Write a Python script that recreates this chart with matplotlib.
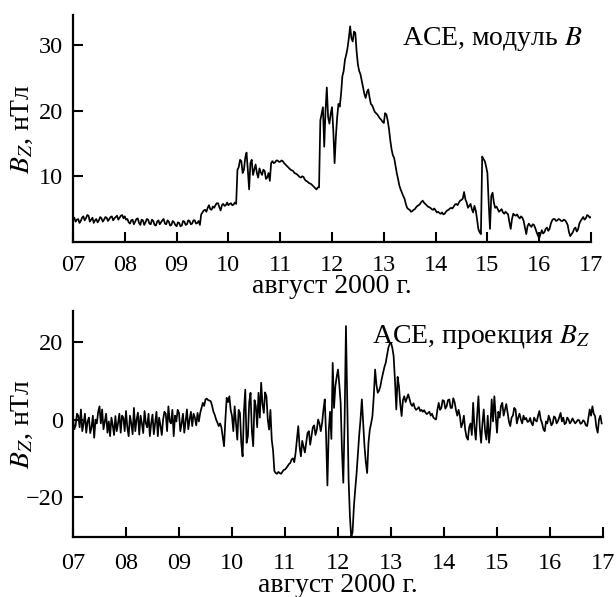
import numpy as np
import matplotlib
matplotlib.use("Agg")
import matplotlib.pyplot as plt

plt.rcParams['font.family'] = ['Liberation Serif', 'DejaVu Serif']
plt.rcParams['mathtext.fontset'] = 'stix'

# x tick labels (days of August 2000)
day_labels = ["07", "08", "09", "10", "11", "12", "13", "14", "15", "16", "17"]

# Top panel: |B| (nT), read every 0.05 day from 07.00 to 17.00
b_day07 = [3.3, 3.1, 3.5, 3.2, 3.9, 3.6, 4.0, 3.4, 2.9, 3.5, 3.3, 3.6, 3.4, 3.7, 3.5, 3.9, 3.6, 4.0, 3.7, 4.1]
b_day08 = [3.9, 3.5, 2.8, 3.4, 3.1, 3.6, 2.6, 3.3, 3.0, 3.4, 2.7, 3.2, 2.5, 3.3, 3.0, 3.5, 2.7, 3.1, 2.6, 3.0]
b_day09 = [2.4, 2.9, 2.5, 3.1, 2.7, 3.2, 2.8, 3.3, 2.9, 2.6, 4.5, 4.9, 5.2, 5.0, 5.4, 5.6, 5.9, 4.8, 5.8, 5.6]
b_day10 = [5.6, 5.9, 5.7, 5.8, 11.4, 12.3, 11.0, 13.6, 8.0, 12.5, 11.0, 10.5, 11.2, 10.2, 10.8, 9.8, 9.3, 12.3, 12.1, 12.4]
b_day11 = [12.2, 12.3, 11.8, 11.4, 11.0, 10.8, 10.4, 10.1, 9.8, 9.9, 9.3, 9.0, 8.8, 8.4, 8.0, 8.3, 19.5, 14.5, 23.5, 18.0]
b_day12 = [20.5, 12.0, 19.0, 20.6, 25.2, 27.7, 29.5, 32.8, 30.5, 31.8, 27.0, 25.5, 23.5, 21.9, 23.2, 21.0, 20.3, 19.6, 19.1, 18.6]
b_day13 = [18.1, 19.4, 17.2, 14.1, 12.8, 10.5, 8.6, 7.5, 6.6, 5.2, 4.9, 4.7, 5.0, 5.5, 5.8, 6.3, 5.8, 5.4, 5.2, 4.9]
b_day14 = [4.8, 4.6, 4.3, 4.2, 4.6, 4.9, 5.2, 5.4, 5.8, 6.0, 6.4, 7.6, 6.0, 5.5, 5.0, 5.5, 3.5, 1.5, 13.0, 12.3]
b_day15 = [10.5, 2.0, 7.5, 5.2, 5.0, 4.8, 4.5, 4.6, 4.2, 2.0, 4.3, 4.0, 3.8, 3.9, 3.2, 1.2, 2.8, 2.3, 2.6, 1.5]
b_day16 = [0.6, 1.8, 1.5, 2.2, 2.0, 3.3, 3.5, 3.3, 3.4, 3.2, 3.3, 2.6, 0.9, 1.5, 2.2, 1.9, 3.2, 3.8, 3.6, 4.0, 3.8]
# |B| read half-way between the samples above (07.025 ... 16.975)
bm_day07 = [3.7, 3.4, 2.9, 3.7, 3.3, 4.1, 3.1, 3.7, 3.3, 3.0, 3.8, 3.1, 3.8, 3.2, 3.8, 3.3, 3.8, 3.4, 4.0, 3.6]
bm_day08 = [3.4, 3.0, 3.3, 2.7, 3.5, 2.9, 3.4, 2.6, 3.5, 2.8, 3.4, 2.6, 3.1, 2.7, 3.3, 2.8, 3.3, 2.5, 3.2, 2.6]
bm_day09 = [3.0, 2.4, 3.2, 2.6, 3.3, 2.7, 3.3, 2.8, 3.2, 4.2, 4.8, 4.6, 5.6, 4.9, 5.2, 5.9, 5.3, 5.6, 5.5, 6.0]
bm_day10 = [5.8, 5.6, 6.0, 11.0, 12.5, 10.5, 12.8, 11.0, 12.0, 10.2, 11.8, 9.8, 10.6, 11.0, 9.6, 10.5, 12.0, 12.0, 12.4, 12.2]
bm_day11 = [12.4, 12.0, 11.6, 11.2, 10.9, 10.5, 10.3, 9.9, 10.0, 9.5, 9.2, 8.9, 8.6, 8.2, 8.3, 18.5, 20.5, 20.0, 19.0, 19.5]
bm_day12 = [17.0, 16.0, 21.0, 22.5, 26.0, 28.5, 31.0, 31.0, 32.0, 29.0, 26.0, 24.5, 22.5, 22.8, 22.0, 20.8, 19.8, 19.4, 18.8, 18.3]
bm_day13 = [19.6, 18.5, 15.5, 13.2, 11.6, 9.6, 8.0, 7.0, 5.8, 5.0, 4.6, 4.9, 5.3, 5.6, 6.1, 6.0, 5.6, 5.3, 5.0, 5.1]
bm_day14 = [4.5, 4.4, 4.5, 4.3, 4.8, 5.1, 5.1, 5.7, 5.6, 6.3, 6.6, 6.5, 5.2, 5.8, 4.5, 4.8, 2.0, 1.2, 12.6, 11.5]
bm_day15 = [6.0, 7.0, 6.0, 5.4, 4.6, 5.0, 4.3, 4.4, 3.0, 3.5, 4.1, 4.2, 3.6, 3.7, 2.2, 2.4, 2.5, 2.7, 2.1, 1.0]
bm_day16 = [1.2, 1.3, 2.0, 1.7, 2.8, 3.5, 3.2, 3.5, 3.2, 3.4, 3.0, 1.5, 1.2, 2.0, 1.6, 2.8, 3.5, 3.4, 4.1, 3.7]

# Bottom panel: Bz (nT), read every 0.05 day from 07.00 to 16.95
bz_day07 = [0.3, -1.5, 1.0, 2.6, -1.0, -3.4, 0.5, -2.0, -4.7, -1.0, 3.4, 2.6, -0.5, -3.4, -4.3, -1.5, 0.9, -1.0, -3.4, 0.5]
bz_day08 = [2.2, -4.3, -1.0, 3.0, 0.0, -3.9, -1.0, 2.2, -2.0, -4.3, 1.3, -1.0, -4.3, -1.5, 0.0, 1.5, 3.4, -1.0, -4.3, -0.5]
bz_day09 = [1.7, -1.0, -3.4, 2.6, 0.0, -1.7, 0.5, 1.7, 1.7, 4.3, 5.2, 5.0, 4.7, 2.0, 0.0, -1.7, -2.0, -6.9, 5.6, 6.0]
bz_day10 = [0.9, 3.4, -5.2, 1.7, -9.5, 7.7, -4.3, 6.9, -6.9, 3.4, 6.9, 9.5, 1.7, 6.0, -2.6, -5.2, -13.3, -14.0, -13.8, -13.5]
bz_day11 = [-12.9, -12.0, -11.2, -10.0, -8.6, -1.7, -9.5, -7.0, -6.0, -3.0, -4.3, -1.5, -2.6, -1.0, -0.9, 5.2, -17.0, 2.0, 14.6, 8.6]
bz_day12 = [12.9, 4.3, -16.3, 24.1, -15.5, -30.5, -22.4, -14.0, -4.0, 5.2, -6.9, -13.8, -2.6, 0.9, 12.9, 6.9, 8.6, 12.0, 14.6, 18.5]
bz_day13 = [19.8, 16.3, 2.6, 8.6, 0.9, 6.0, 5.5, 5.2, 3.5, 3.0, 2.8, 2.2, 2.0, 1.8, 1.7, 1.0, 0.5, 0.0, 4.3, 3.0]
bz_day14 = [4.8, 3.4, 5.2, 3.0, 4.5, 1.0, 0.9, -1.0, -2.6, -5.2, -1.0, 4.3, -5.2, 6.0, -6.0, 2.6, -5.2, -6.0, 5.2, 6.0]
bz_day15 = [-3.4, 0.5, 4.3, 2.5, 1.7, -1.7, 1.0, 2.6, 0.5, 0.0, 1.0, 0.4, -0.5, -0.9, 0.5, -0.5, 2.2, -0.9, -3.0, -1.0]
bz_day16 = [0.0, -1.0, 0.5, -0.4, 1.7, 0.5, -0.9, 0.0, -0.5, -0.4, -0.6, -0.2, -0.9, -0.5, -1.7, 2.6, 3.4, 0.9, -3.4, 1.0]
# Bz read half-way between the samples above (07.025 ... 16.975)
bzm_day07 = [-2.5, 1.5, -2.0, -3.0, 1.5, -0.5, -3.5, 1.0, 0.0, 2.0, -1.0, -2.5, 1.5, -0.5, 0.5, -4.0, -3.0, 1.5, 1.0, -3.0]
bzm_day08 = [-2.0, 1.0, -3.8, -3.0, 1.8, 1.0, -3.5, -1.0, 1.5, -1.0, -3.8, 2.0, 0.5, -4.0, 2.0, -3.0, -0.5, 2.5, 1.0, 2.5]
bzm_day09 = [-3.0, 1.5, -0.5, -2.5, 2.0, 1.5, -1.5, -0.5, 3.0, 3.5, 5.4, 4.9, 3.5, 1.2, -0.8, -1.0, -4.5, 0.0, 4.5, 2.5]
bzm_day10 = [-3.0, -1.0, 2.5, -6.0, 2.0, -6.0, 4.5, -3.0, 5.0, -2.0, 0.5, 4.0, 7.0, 0.0, 2.5, -8.0, -13.8, -13.5, -14.0, -13.0]
bzm_day11 = [-12.5, -11.5, -10.3, -11.0, -5.0, -7.0, -5.5, -8.5, -3.5, -6.5, -2.0, -4.0, 0.0, -3.0, 2.5, -4.0, -3.0, -5.0, 3.0, 11.0]
bzm_day12 = [9.0, -8.0, 0.0, 5.0, -25.0, -29.0, -18.0, -9.0, 0.0, -1.0, -11.0, -6.0, -1.0, 6.0, 9.0, 7.5, 10.5, 13.5, 16.5, 19.5]
bzm_day13 = [18.5, 10.0, 11.0, 4.0, 5.0, 4.5, 6.5, 4.0, 4.2, 2.5, 3.2, 2.5, 2.4, 1.4, 2.0, 1.5, 0.2, 2.5, 2.5, 5.0]
bzm_day14 = [2.8, 5.0, 3.0, 5.5, 2.5, 2.5, -2.0, 1.0, -4.5, -2.0, -4.0, -2.0, 1.0, -2.0, -1.0, -3.0, 1.0, -2.0, -0.5, 1.0]
bzm_day15 = [2.0, 3.5, 1.0, 4.0, -0.5, 0.5, 3.0, -1.0, 1.5, -1.0, 0.0, -0.6, 0.4, -1.5, -0.2, 1.0, 0.0, -2.5, -0.5, 1.0]
bzm_day16 = [-1.5, 0.8, -1.0, 0.6, -0.5, -1.2, 0.5, -1.0, 0.3, -1.0, -0.1, -1.1, -0.2, -1.5, 0.5, 1.0, 1.5, -2.0, 0.0, -1.0]


def interleave(samples, halfway):
    out = []
    for i, v in enumerate(samples):
        out.append(v)
        if i < len(halfway):
            out.append(halfway[i])
    return np.array(out)


b_samples = b_day07 + b_day08 + b_day09 + b_day10 + b_day11 + b_day12 + b_day13 + b_day14 + b_day15 + b_day16
b_half = bm_day07 + bm_day08 + bm_day09 + bm_day10 + bm_day11 + bm_day12 + bm_day13 + bm_day14 + bm_day15 + bm_day16
bz_samples = bz_day07 + bz_day08 + bz_day09 + bz_day10 + bz_day11 + bz_day12 + bz_day13 + bz_day14 + bz_day15 + bz_day16
bz_half = bzm_day07 + bzm_day08 + bzm_day09 + bzm_day10 + bzm_day11 + bzm_day12 + bzm_day13 + bzm_day14 + bzm_day15 + bzm_day16

b_vals = interleave(b_samples, b_half)
bz_vals = interleave(bz_samples, bz_half)
t_b = 7.0 + 0.025 * np.arange(len(b_vals))
t_bz = 7.0 + 0.025 * np.arange(len(bz_vals))

fig = plt.figure(figsize=(6.16, 5.97), dpi=100)
ax1 = fig.add_axes([0.1185, 0.5946, 0.8409, 0.380])
ax2 = fig.add_axes([0.1185, 0.1005, 0.8604, 0.3786])

FS_TICK = 17.5
FS_TEXT = 20


def style(ax, xpad):
    for s in ["top", "right"]:
        ax.spines[s].set_visible(False)
    for s in ["left", "bottom"]:
        ax.spines[s].set_linewidth(1.6)
    ax.tick_params(direction="in", length=7, width=1.5, labelsize=FS_TICK)
    ax.tick_params(axis="x", pad=xpad)
    ax.tick_params(axis="y", pad=7)
    ax.set_xlim(7, 17)
    ax.set_xticks(np.arange(7, 18))
    ax.set_xticklabels(day_labels)


ax1.plot(t_b, b_vals, color="black", lw=1.25)
style(ax1, 9.5)
ax1.set_ylim(0, 34.5)
ax1.set_yticks([10, 20, 30])
ax1.set_xlabel("август 2000 г.", fontsize=FS_TEXT)
ax1.xaxis.label.set_va("baseline")
ax1.xaxis.set_label_coords(0.5, -0.223)
ax1.set_ylabel("$B_Z$, нТл", fontsize=FS_TEXT)
ax1.yaxis.set_label_coords(-0.073, 0.5)
ax1.text(0.983, 0.868, "ACE, модуль $B$", transform=ax1.transAxes,
         ha="right", va="baseline", fontsize=FS_TEXT)

ax2.plot(t_bz, bz_vals, color="black", lw=1.25)
style(ax2, 11.5)
ax2.set_ylim(-30.3, 28)
ax2.set_yticks([-20, 0, 20])
ax2.set_xlabel("август 2000 г.", fontsize=FS_TEXT)
ax2.xaxis.label.set_va("baseline")
ax2.xaxis.set_label_coords(0.5, -0.243)
ax2.set_ylabel("$B_Z$, нТл", fontsize=FS_TEXT)
ax2.yaxis.set_label_coords(-0.072, 0.5)
ax2.text(0.975, 0.858, "ACE, проекция $B_Z$", transform=ax2.transAxes,
         ha="right", va="baseline", fontsize=FS_TEXT)

fig.savefig("out.png", dpi=100)
